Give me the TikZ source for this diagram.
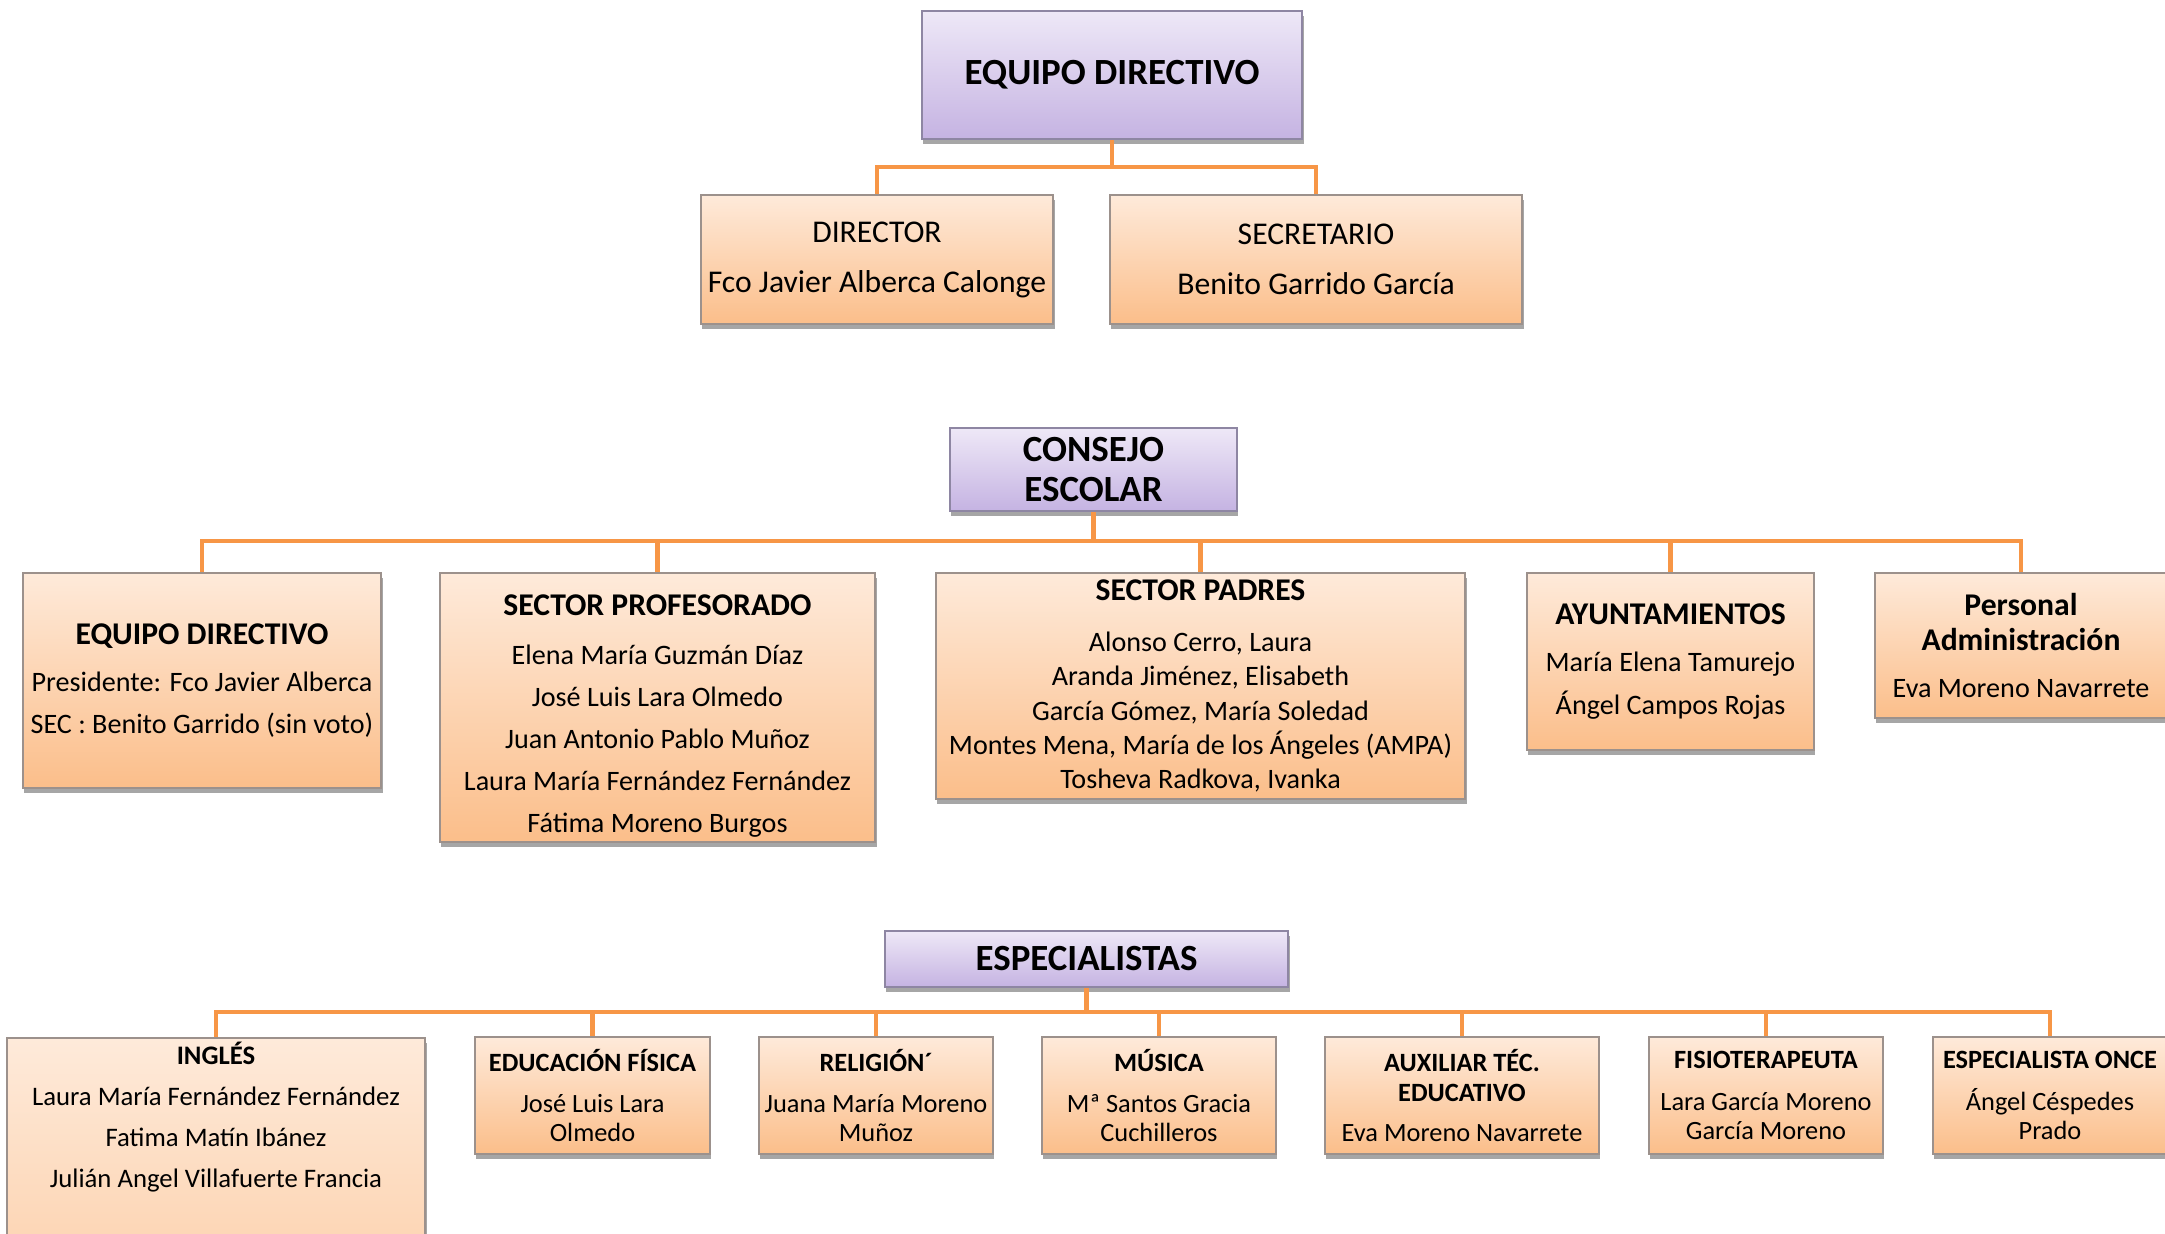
\documentclass[tikz,border=0pt]{standalone}
\usepackage{fontspec}
\setmainfont{Carlito}
\usetikzlibrary{shadows}

\definecolor{naranjaLinea}{HTML}{F79646}
\definecolor{naranjaTop}{HTML}{FEEADA}
\definecolor{naranjaBot}{HTML}{FBBE8A}
\definecolor{moradoTop}{HTML}{EEE8F7}
\definecolor{moradoBot}{HTML}{C5B3E2}
\definecolor{bordeGris}{HTML}{9C918C}
\definecolor{bordeMorado}{HTML}{8E86A3}

\newcommand{\cabecera}[1]{{\fontsize{9}{12}\selectfont\bfseries #1}}

\begin{document}
\begin{tikzpicture}[
    x=0.01cm, y=-0.01cm,
    sombra/.style={drop shadow={shadow xshift=0.4pt, shadow yshift=-1.4pt, opacity=0.35, fill=black}},
    jefe/.style={rectangle, draw=bordeMorado, line width=0.7pt, top color=moradoTop, bottom color=moradoBot, sombra, align=center, inner sep=1pt, font=\fontsize{10.5}{11.4}\selectfont\bfseries},
    caja/.style={rectangle, draw=bordeGris, line width=0.7pt, top color=naranjaTop, bottom color=naranjaBot, sombra, align=center, inner sep=1pt},
    grande/.style={caja, font=\fontsize{9}{14.2}\selectfont},
    media/.style={caja, font=\fontsize{8}{12}\selectfont},
    chica/.style={caja, font=\fontsize{7.5}{8.3}\selectfont, minimum height=1.17cm},
    linea/.style={draw=naranjaLinea, line width=1.3pt}
]
    \useasboundingbox (0,0) rectangle (2165,1234);
    \clip (0,0) rectangle (2165,1234);

    % Equipo directivo
    \node[jefe, minimum width=3.8cm, minimum height=1.28cm] (equipo) at (1112,75) {EQUIPO DIRECTIVO};
    \node[grande, minimum width=3.52cm, minimum height=1.29cm] (director) at (877,259.5) {DIRECTOR\\Fco Javier Alberca Calonge};
    \node[grande, minimum width=4.12cm, minimum height=1.29cm] (secretario) at (1316,259.5) {SECRETARIO\\Benito Garrido García};

    % Consejo escolar
    \node[jefe, minimum width=2.87cm, minimum height=0.83cm] (consejo) at (1093.5,469.5) {CONSEJO\\ESCOLAR};
    \node[media, minimum width=3.58cm, minimum height=2.15cm] (eqdir) at (202,680.5)
        {\cabecera{EQUIPO DIRECTIVO}\\[1.4pt]Presidente: Fco Javier Alberca\\SEC : Benito Garrido (sin voto)};
    \node[media, inner ysep=0pt, minimum width=4.35cm, minimum height=2.69cm] (profesorado) at (657.5,707.5)
        {\rule{0pt}{11pt}\cabecera{SECTOR PROFESORADO}\\[1.7pt]Elena María Guzmán Díaz\\José Luis Lara Olmedo\\Juan Antonio Pablo Muñoz\\Laura María Fernández Fernández\\Fátima Moreno Burgos};
    \node[media, font=\fontsize{8}{9.7}\selectfont, minimum width=5.29cm, minimum height=2.26cm] (padres) at (1200.5,686)
        {\cabecera{SECTOR PADRES}\\[4.8pt]Alonso Cerro, Laura\\Aranda Jiménez, Elisabeth\\García Gómez, María Soledad\\Montes Mena, María de los Ángeles (AMPA)\\Tosheva Radkova, Ivanka};
    \node[media, minimum width=2.87cm, minimum height=1.77cm] (ayunt) at (1670.5,661.5)
        {\cabecera{AYUNTAMIENTOS}\\[1.4pt]María Elena Tamurejo\\Ángel Campos Rojas};
    \node[media, font=\fontsize{8}{10}\selectfont, minimum width=2.92cm, minimum height=1.45cm] (personal) at (2021,645.5)
        {\cabecera{Personal}\\\cabecera{Administración}\\[3.4pt]Eva Moreno Navarrete};

    % Especialistas
    \node[jefe, minimum width=4.03cm, minimum height=0.56cm] (especialistas) at (1086.5,959) {ESPECIALISTAS};
    \node[caja, anchor=north, inner ysep=1pt, minimum width=4.18cm, font=\fontsize{7.6}{11.7}\selectfont] (ingles) at (216,1037)
        {\textbf{INGLÉS}\\Laura María Fernández Fernández\\Fatima Matín Ibánez\\Julián Angel Villafuerte Francia\\[70pt]\mbox{}};
    \node[chica, minimum width=2.35cm] (edfisica) at (592.5,1095.5) {\textbf{EDUCACIÓN FÍSICA}\\[3.4pt]José Luis Lara\\Olmedo};
    \node[chica, minimum width=2.34cm] (religion) at (876,1095.5) {\textbf{RELIGIÓN´}\\[3.4pt]Juana María Moreno\\Muñoz};
    \node[chica, minimum width=2.34cm] (musica) at (1159,1095.5) {\textbf{MÚSICA}\\[3.4pt]Mª Santos Gracia\\Cuchilleros};
    \node[chica, minimum width=2.74cm] (auxiliar) at (1462,1095.5) {\textbf{AUXILIAR TÉC.}\\\textbf{EDUCATIVO}\\[3.1pt]Eva Moreno Navarrete};
    \node[chica, minimum width=2.34cm] (fisio) at (1766,1095.5) {\textbf{FISIOTERAPEUTA}\\[3.4pt]Lara García Moreno\\García Moreno};
    \node[chica, minimum width=2.34cm] (once) at (2050,1095.5) {\textbf{ESPECIALISTA ONCE}\\[3.4pt]Ángel Céspedes\\Prado};

    % Conectores
    \coordinate (busA) at (1112,167);
    \coordinate (busB) at (1093.5,541);
    \coordinate (busC) at (1086.5,1012);
    \draw[linea] (equipo.south) -- (busA);
    \foreach \n in {director,secretario}
        \draw[linea] (busA) -| (\n.north);
    \draw[linea] (consejo.south) -- (busB);
    \foreach \n in {eqdir,profesorado,padres,ayunt,personal}
        \draw[linea] (busB) -| (\n.north);
    \draw[linea] (especialistas.south) -- (busC);
    \foreach \n in {ingles,edfisica,religion,musica,auxiliar,fisio,once}
        \draw[linea] (busC) -| (\n.north);
\end{tikzpicture}
\end{document}
